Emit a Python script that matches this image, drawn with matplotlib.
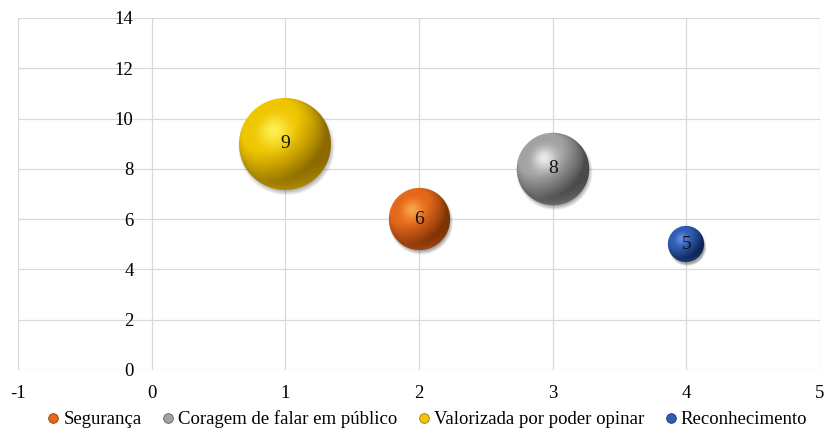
#!/usr/bin/env python3
"""
Bubble chart: motivos citados, with Excel-like shaded spheres.
"""
import numpy as np
import matplotlib

matplotlib.use("Agg")
import matplotlib.pyplot as plt
from matplotlib.lines import Line2D
from matplotlib.offsetbox import OffsetImage, AnnotationBbox

# %% data
labels = ["Segurança", "Coragem de falar em público",
          "Valorizada por poder opinar", "Reconhecimento"]
x_vals = [2, 3, 1, 4]
y_vals = [6, 8, 9, 5]
bubble_sizes = [20, 28, 45, 7]  # relative area
point_text = ["6", "8", "9", "5"]

x_ticks = [-1, 0, 1, 2, 3, 4, 5]
y_ticks = [0, 2, 4, 6, 8, 10, 12, 14]

# shading colours: (highlight, base, dark)
palette = [
    ("#f9aa4c", "#e5681a", "#7e3306"),
    ("#f2f2f2", "#a2a2a2", "#4a4a4a"),
    ("#fff45a", "#efc500", "#8c6a00"),
    ("#6e94e2", "#2f5db5", "#0f2656"),
]

plt.rcParams["font.family"] = ["Liberation Serif", "DejaVu Serif"]


def hex2rgb(h):
    h = h.lstrip("#")
    return np.array([int(h[i:i + 2], 16) / 255 for i in (0, 2, 4)])


def sphere(d, light, base, dark, pad=9):
    n = int(round(d)) + 2 * pad
    yy, xx = np.mgrid[0:n, 0:n] + 0.5
    c = n / 2
    R = d / 2
    u = (xx - c) / R
    v = (c - yy) / R
    rr = np.sqrt(u ** 2 + v ** 2)
    z = np.sqrt(np.clip(1 - rr ** 2, 0, 1))

    L = np.array([-0.45, 0.55, 0.70])
    L = L / np.linalg.norm(L)
    diff = np.clip(u * L[0] + v * L[1] + z * L[2], 0, 1)

    lt, bs, dk = hex2rgb(light), hex2rgb(base), hex2rgb(dark)
    t = diff[..., None]
    rgb = np.where(t < 0.75, dk + (bs - dk) * (t / 0.75), bs)
    # highlight spot
    H = L + np.array([0, 0, 1.0])
    H = H / np.linalg.norm(H)
    spec = np.clip(u * H[0] + v * H[1] + z * H[2], 0, 1) ** 18
    rgb = rgb + (lt - rgb) * (0.9 * spec)[..., None]
    # reflected light at the bottom
    refl = np.clip(-v - 0.35, 0, 1) * np.clip(rr - 0.55, 0, 1) * 1.3
    rgb = rgb + (bs - rgb) * np.clip(refl, 0, 0.7)[..., None]
    rgb = np.clip(rgb, 0, 1)

    a_s = np.clip((1 - rr) * R + 0.5, 0, 1)

    # soft shadow below / right
    us = (xx - c - 1.5) / R
    vs = (c - yy - (-3.0)) / R
    ds = np.sqrt(us ** 2 + vs ** 2)
    a_sh = 0.35 * np.clip((1.06 - ds) / 0.14, 0, 1)

    alpha = a_s + a_sh * (1 - a_s)
    out = np.zeros((n, n, 4))
    safe = np.where(alpha > 0, alpha, 1)
    out[..., :3] = (rgb * a_s[..., None]) / safe[..., None]
    out[..., 3] = alpha
    return out


fg = plt.figure(figsize=(8.26, 4.38), dpi=100)
ax = fg.add_axes([18 / 826, 68 / 438, 802 / 826, 352 / 438])

ax.set_xlim(-1, 5)
ax.set_ylim(0, 14)
ax.set_xticks(x_ticks)
ax.set_yticks(y_ticks)
ax.set_xticklabels([str(t) for t in x_ticks])
ax.set_yticklabels([str(t) for t in y_ticks])
ax.grid(True, color="#d9d9d9", linewidth=0.9)
ax.set_axisbelow(True)
for s in ax.spines.values():
    s.set_color("none")
ax.spines["left"].set_position(("data", 0))
ax.tick_params(axis="both", length=0, labelsize=13.5, colors="#000000")
ax.tick_params(axis="y", pad=13)
ax.tick_params(axis="x", pad=10.5)

# bubble diameter in pixels from its relative area
k = 13.7
for xi, yi, s, txt, (lt, bs, dk) in zip(x_vals, y_vals, bubble_sizes,
                                        point_text, palette):
    d = k * np.sqrt(s)
    im = OffsetImage(sphere(d, lt, bs, dk), zoom=1, dpi_cor=False)
    ab = AnnotationBbox(im, (xi, yi), xycoords="data", frameon=False,
                        pad=0, zorder=3)
    ax.add_artist(ab)
    ax.text(xi, yi, txt, ha="center", va="center", fontsize=14,
            color="#111111", zorder=4)

handles = [Line2D([], [], linestyle="none", marker="o", markersize=7,
                  markerfacecolor=bs, markeredgecolor=dk, markeredgewidth=0.5)
           for (lt, bs, dk) in palette]
fg.legend(handles, labels, loc="lower center", bbox_to_anchor=(0.517, -0.016),
          ncol=4, frameon=False, fontsize=13.5, handlelength=0.7,
          handletextpad=0.2, columnspacing=1.05)

fg.savefig("out.png", dpi=100)
